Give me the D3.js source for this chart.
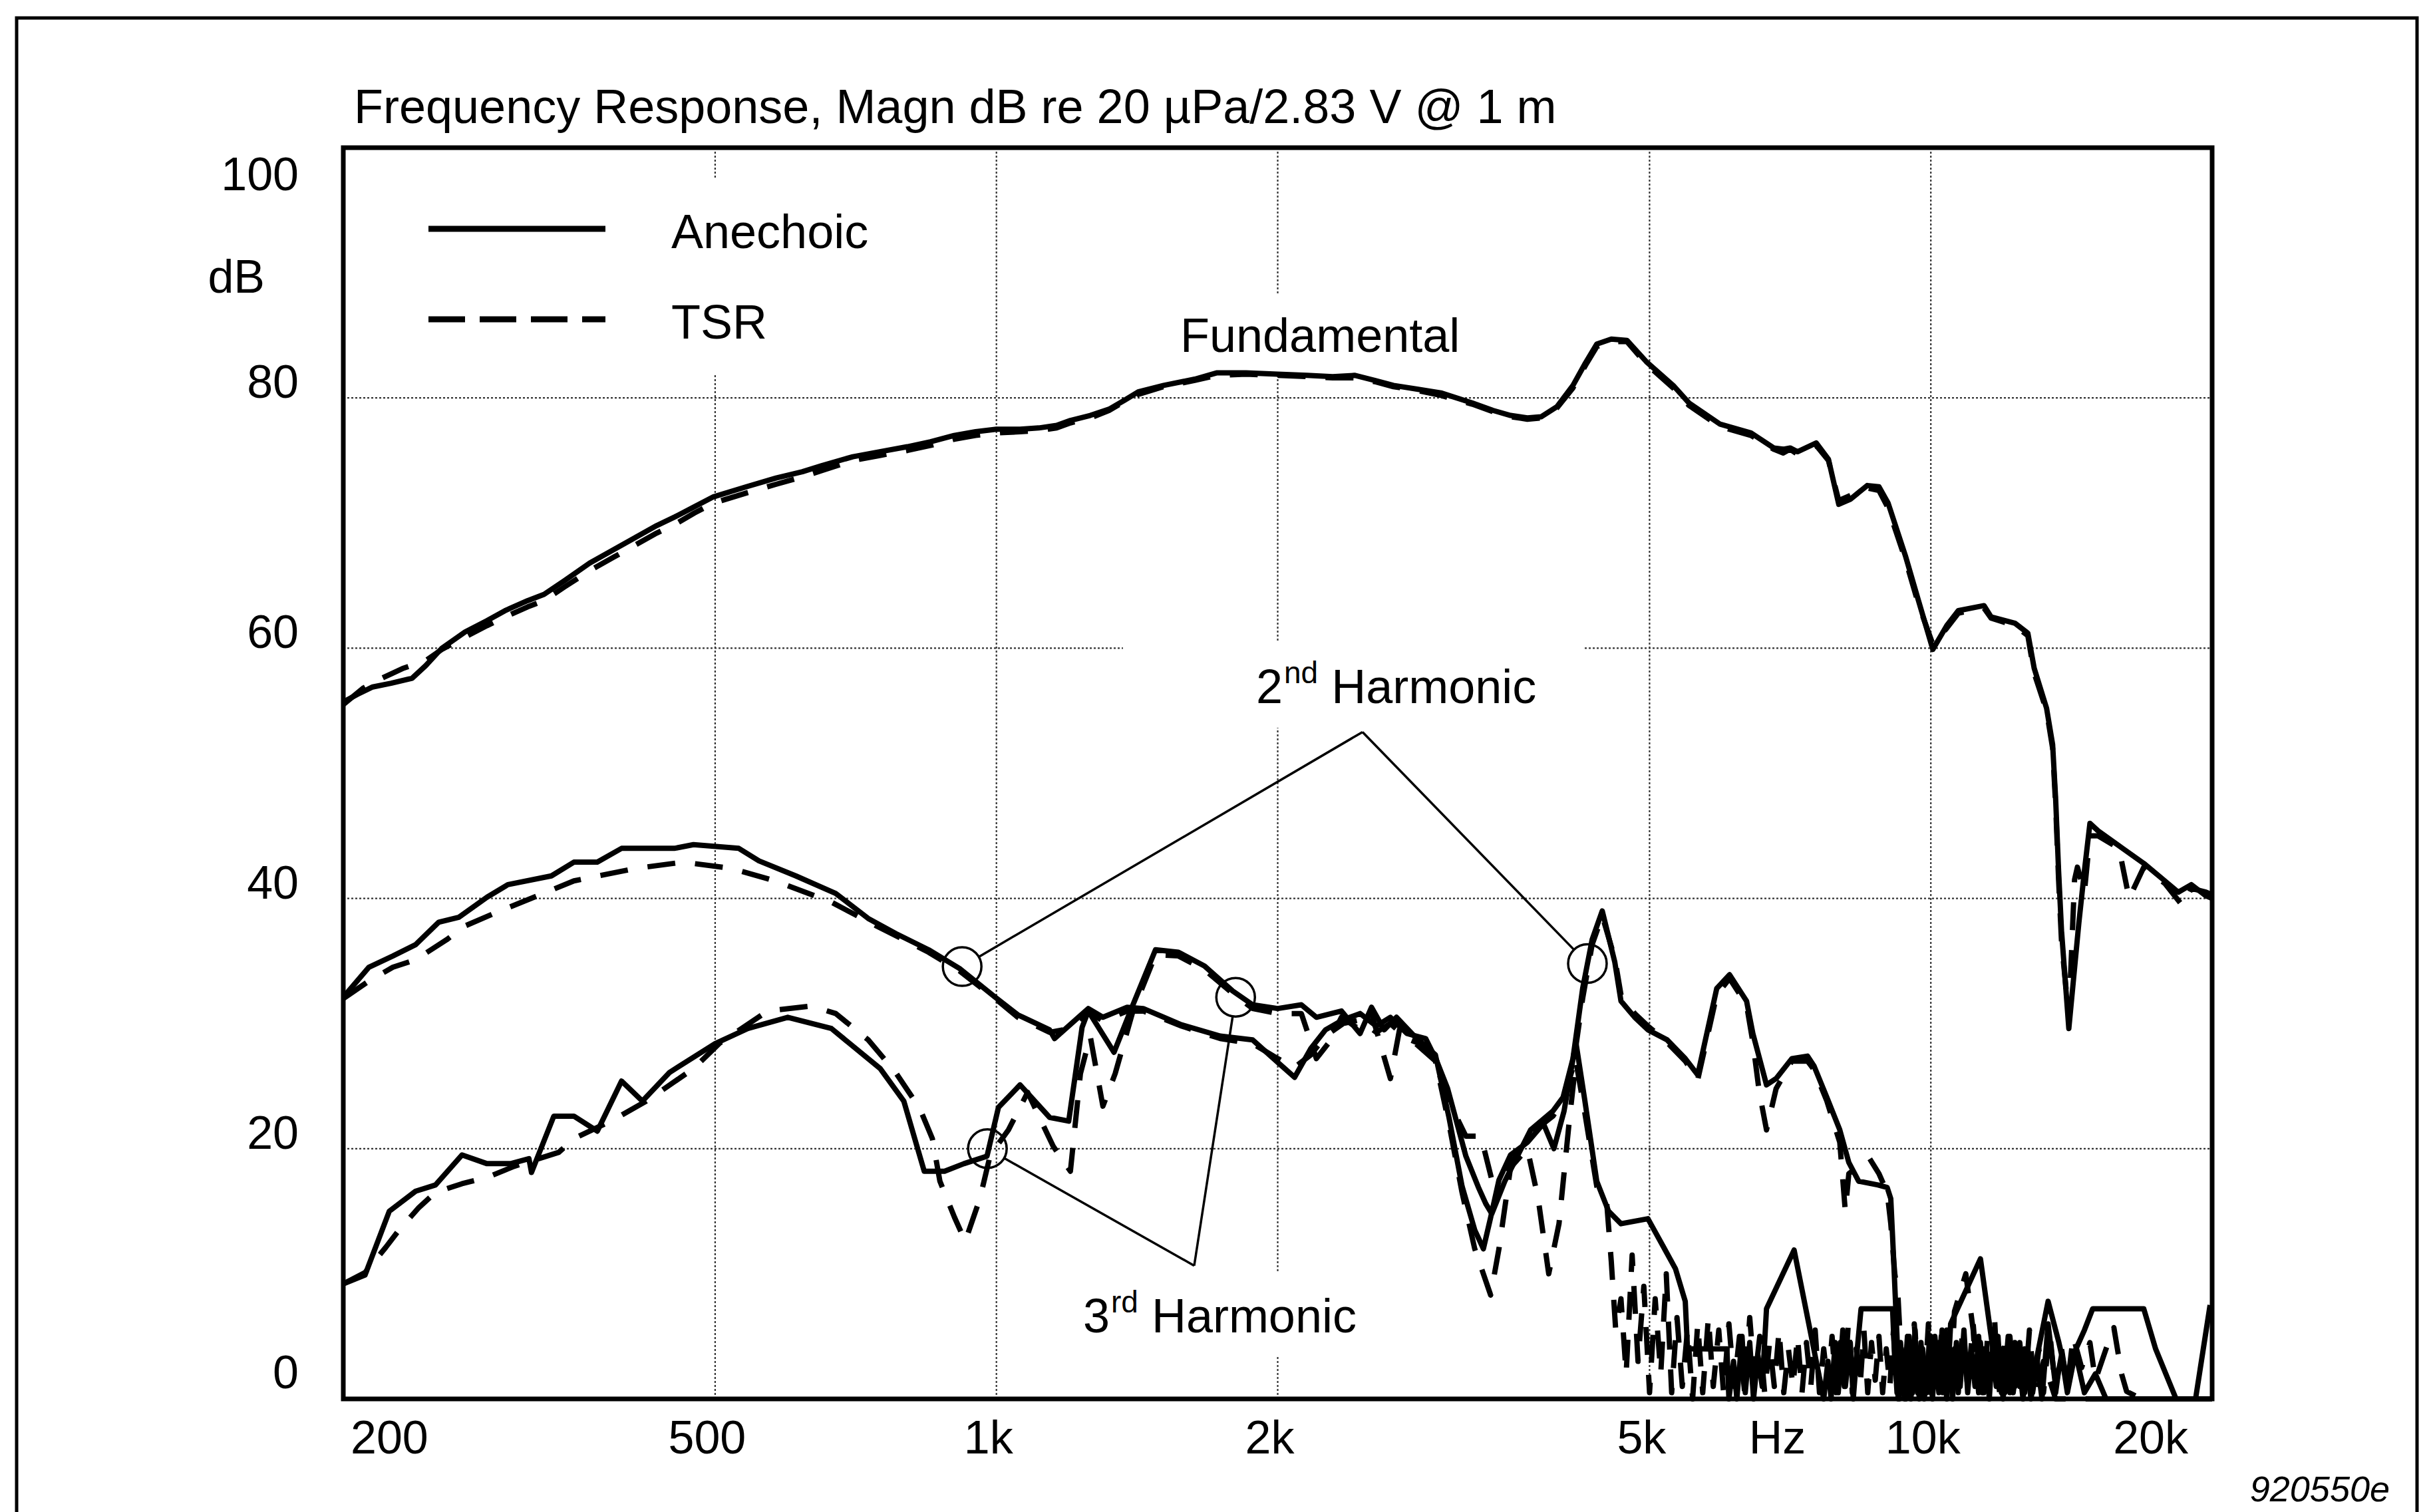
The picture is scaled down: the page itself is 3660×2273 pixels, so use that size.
<!DOCTYPE html>
<html>
<head>
<meta charset="utf-8">
<script src="https://cdn.jsdelivr.net/npm/d3@7"></script>
<style>
  html, body { margin: 0; padding: 0; background: #fff; }
  svg { display: block; }
  text { font-family: "Liberation Sans", Arial, Helvetica, sans-serif; fill: #000; }
</style>
</head>
<body>
<svg id="chart" width="3660" height="2273"></svg>
<script>
// ---- Measured responses: [frequency Hz, level dB] ----
const fundamentalAnechoic = [
  [200,55.7],[207,56.3],[215,56.9],[225,57.2],[237,57.6],[245,58.6],[255,60.0],[270,61.3],[285,62.2],
  [298,63.0],[315,63.8],[328,64.3],[345,65.4],[367,66.8],[390,67.9],[412,68.9],[433,69.8],[453,70.5],
  [475,71.3],[498,72.1],[540,72.9],[581,73.6],[620,74.1],[651,74.6],[702,75.3],[750,75.7],[803,76.1],
  [850,76.5],[901,77.0],[950,77.3],[1000,77.5],[1060,77.5],[1110,77.6],[1160,77.8],[1200,78.2],
  [1260,78.6],[1320,79.1],[1370,79.8],[1420,80.5],[1510,81.0],[1630,81.5],[1720,82.0],[1850,82.0],
  [2000,81.9],[2150,81.8],[2290,81.7],[2420,81.8],[2540,81.4],[2660,81.0],[2820,80.7],[2990,80.4],
  [3230,79.6],[3400,79.0],[3550,78.6],[3700,78.4],[3830,78.5],[3980,79.3],[4140,81.0],[4270,82.8],
  [4390,84.3],[4550,84.7],[4730,84.6],[4960,82.9],[5300,81.0],[5510,79.6],[5950,77.9],[6420,77.2],
  [6790,76.0],[6950,75.9],[7070,76.0],[7200,75.7],[7540,76.4],[7770,75.1],[7970,71.5],[8200,71.9],
  [8550,73.0],[8800,72.9],[9000,71.6],[9400,67.3],[9700,63.8],[10050,59.9],[10400,61.8],[10700,63.0],
  [11400,63.4],[11600,62.5],[12300,62.0],[12700,61.2],[12900,58.4],[13300,55.2],[13500,52.3],
  [13600,48.0],[13700,42.2],[13800,37.4],[14050,29.6],[14400,38.0],[14600,42.2],[14800,46.0],
  [15100,45.4],[15900,44.2],[16900,42.8],[17800,41.4],[18400,40.5],[19000,41.1],[19700,40.2],[20000,40.0]
];
const fundamentalTSR = [
  [200,55.5],[210,56.8],[220,57.6],[232,58.4],[245,59.0],[255,59.9],[270,60.9],[285,61.8],[298,62.5],
  [315,63.3],[328,63.8],[345,64.9],[367,66.2],[390,67.3],[412,68.3],[433,69.2],[453,69.9],[475,70.8],
  [498,71.6],[540,72.4],[581,73.1],[620,73.7],[651,74.2],[702,75.0],[750,75.4],[803,75.8],[850,76.2],
  [901,76.7],[950,77.0],[1000,77.2],[1060,77.3],[1110,77.4],[1160,77.6],[1200,78.0],[1260,78.4],
  [1320,79.0],[1370,79.7],[1420,80.3],[1510,80.9],[1630,81.4],[1720,81.8],[1850,81.9],[2000,81.8],
  [2150,81.7],[2290,81.6],[2420,81.6],[2540,81.3],[2660,80.9],[2820,80.6],[2990,80.2],[3230,79.5],
  [3400,78.9],[3550,78.5],[3700,78.3],[3830,78.4],[3980,79.2],[4140,80.8],[4270,82.6],[4390,84.1],
  [4550,84.5],[4730,84.5],[4960,82.7],[5300,80.8],[5510,79.4],[5950,77.7],[6420,77.0],[6790,75.9],
  [6950,75.6],[7070,75.9],[7200,75.5],[7540,76.2],[7770,75.0],[7970,71.8],[8200,72.2],[8550,72.8],
  [8800,72.6],[9000,71.2],[9400,67.0],[9700,63.5],[10050,60.3],[10400,61.6],[10700,62.8],[11400,63.2],
  [11600,62.4],[12300,61.8],[12700,61.0],[12900,58.0],[13300,55.0],[13500,52.0],[13600,47.5],
  [13700,41.5],[13800,36.5],[14050,30.5],[14250,41.5],[14350,42.5],[14600,40.5],[14800,45.0],
  [15100,45.0],[15900,44.0],[16300,40.0],[16900,42.5],[17800,41.2],[18600,39.4],[19000,40.8],
  [19700,40.5],[20000,40.3]
];
const secondHarmonicAnechoic = [
  [200,32.1],[213,34.5],[226,35.4],[239,36.3],[253,38.1],[266,38.5],[285,40.1],[300,41.1],[334,41.8],
  [353,42.9],[374,42.9],[397,44.0],[452,44.0],[474,44.3],[530,44.0],[557,43.0],[610,41.8],[673,40.4],
  [729,38.4],[780,37.2],[846,35.9],[913,34.4],[997,32.1],[1054,30.7],[1140,29.5],[1154,28.8],
  [1254,31.2],[1300,30.5],[1380,31.3],[1436,31.2],[1578,29.9],[1736,29.0],[1880,28.7],[2000,26.9],
  [2085,25.7],[2170,28.0],[2250,29.5],[2350,30.3],[2450,30.8],[2550,29.8],[2640,30.5],[2750,29.2],
  [2880,28.8],[2960,27.0],[3040,24.8],[3180,19.4],[3280,16.9],[3340,15.6],[3390,14.8],[3500,17.4],
  [3610,19.4],[3730,21.5],[3940,23.0],[4040,24.1],[4140,27.2],[4240,32.8],[4340,36.7],[4450,39.0],
  [4590,34.9],[4660,31.8],[4820,30.5],[4980,29.5],[5220,28.7],[5460,27.2],[5630,25.9],[5900,32.8],
  [6090,33.9],[6350,31.8],[6450,29.2],[6670,25.1],[6830,25.6],[7100,27.2],[7380,27.4],[7500,26.6],
  [7740,24.1],[7990,21.5],[8170,18.9],[8370,17.4],[8780,17.1],[8980,16.9],[9060,16.0],[9120,11.5],
  [9200,5.0],[9250,0],[9320,3.5],[9400,0],[9480,5.0],[9560,0.5],[9640,4.0],[9720,0],[9800,3.0],
  [9880,0.5],[9960,4.5],[10040,0],[10120,3.5],[10200,0.5],[10280,5.5],[10360,1.0],[10450,4.0],
  [10550,0],[10650,4.5],[10750,1.0],[10850,5.5],[10950,0.5],[11050,4.0],[11150,1.0],[11250,5.0],
  [11350,0.5],[11450,3.5],[11550,0],[11650,4.5],[11750,1.0],[11850,3.0],[11950,0],[12100,5.0],
  [12250,0.5],[12400,3.5],[12550,0],[12700,4.0],[12850,0.5],[13000,3.0],[13150,0],[13350,6.0],
  [13600,1.0],[13800,3.5],[14000,0.5],[14300,4.0],[14600,5.5],[14900,7.2],[16900,7.2],[17400,4.0],
  [18300,0],[19200,0],[19900,7.5]
];
const secondHarmonicTSR = [
  [200,32.0],[213,33.4],[226,34.5],[239,35.1],[258,36.7],[270,37.8],[290,38.8],[320,40.1],[353,41.4],
  [411,42.4],[462,42.9],[520,42.4],[580,41.4],[666,39.7],[744,37.8],[846,35.7],[913,34.2],[997,32.0],
  [1054,30.5],[1140,29.3],[1200,29.6],[1254,31.0],[1300,30.2],[1380,31.0],[1436,31.0],[1578,29.8],
  [1736,28.8],[1880,28.4],[2000,27.2],[2085,26.5],[2170,27.5],[2250,29.0],[2350,30.0],[2450,30.3],
  [2550,29.3],[2640,30.0],[2750,28.8],[2880,28.2],[2960,26.5],[3040,24.0],[3180,21.0],[3300,21.0],
  [3390,17.5],[3500,18.0],[3610,19.6],[3730,21.2],[3940,22.6],[4040,23.8],[4140,26.5],[4240,32.0],
  [4340,36.3],[4450,38.6],[4590,35.2],[4660,32.3],[4820,30.8],[4980,29.8],[5220,28.5],[5460,27.0],
  [5630,25.5],[5900,32.3],[6090,33.6],[6350,31.5],[6450,28.5],[6550,24.6],[6670,21.5],[6830,24.8],
  [7100,27.0],[7380,27.0],[7500,26.3],[7740,23.8],[7990,20.5],[8100,15.0],[8170,18.0],[8370,18.6],
  [8600,19.2],[8800,18.0],[8980,16.5],[9060,14.0],[9150,10.0],[9220,8.4],[9300,3.0],[9380,0],
  [9460,4.5],[9540,1.0],[9620,5.5],[9700,0.5],[9780,4.0],[9860,1.5],[9940,6.0],[10020,0.5],
  [10100,3.5],[10180,1.0],[10260,5.0],[10340,0],[10420,4.5],[10500,1.0],[10600,7.0],[10900,10.0],
  [11100,5.5],[11200,1.0],[11300,4.5],[11400,0.5],[11500,5.0],[11600,1.5],[11700,6.5],[11800,1.0],
  [11900,4.0],[12000,0.5],[12150,5.0],[12300,1.0],[12450,4.5],[12600,0.5],[12750,5.5],[12900,1.0],
  [13050,4.0],[13200,0.5],[13400,5.5],[13600,0.5],[13800,4.0],[14000,1.0],[14200,5.0],[14500,2.5],
  [14800,4.5],[15000,1.5],[15400,4.0],[15700,5.7],[16000,2.0],[16200,0.6],[16800,0],[20000,0]
];
const thirdHarmonicAnechoic = [
  [200,9.2],[211,9.9],[224,15.0],[239,16.6],[251,17.1],[268,19.5],[285,18.8],[302,18.8],[316,19.2],
  [318,18.1],[336,22.6],[353,22.6],[374,21.4],[397,25.4],[418,23.8],[447,26.1],[500,28.4],[542,29.6],
  [598,30.5],[666,29.6],[751,26.4],[796,23.8],[837,18.2],[880,18.2],[923,18.8],[977,19.4],[1005,23.3],
  [1060,25.1],[1140,22.5],[1195,22.2],[1235,29.7],[1254,31.0],[1336,27.7],[1400,31.5],[1480,35.9],
  [1566,35.7],[1670,34.6],[1790,32.6],[1880,31.5],[2000,31.2],[2120,31.5],[2200,30.5],[2340,31.0],
  [2450,29.2],[2520,31.3],[2600,29.5],[2680,30.5],[2800,29.0],[2950,27.5],[3050,22.5],[3150,17.0],
  [3250,13.5],[3320,12.0],[3380,14.5],[3450,17.5],[3550,19.5],[3700,20.5],[3850,22.0],[3950,20.0],
  [4050,23.0],[4170,28.5],[4260,24.0],[4390,17.4],[4520,15.0],[4660,14.0],[4980,14.4],[5170,12.2],
  [5330,10.4],[5460,7.8],[5490,4.0],[5800,4.0],[6050,4.0],[6080,0],[6150,3.0],[6200,0],[6280,5.0],
  [6330,0.5],[6400,4.5],[6460,0],[6530,3.5],[6600,1.0],[6670,7.2],[7140,11.9],[7680,0],[7760,3.0],
  [7820,0],[7900,4.5],[7960,0.5],[8050,5.5],[8100,1.0],[8200,4.5],[8260,0],[8330,3.5],[8420,7.2],
  [9100,7.2],[9150,3.0],[9230,0],[9300,4.0],[9370,0.5],[9450,5.0],[9520,0],[9600,3.5],[9680,0.5],
  [9760,4.5],[9840,0],[9920,3.0],[10000,0.5],[10100,5.0],[10200,1.0],[10300,4.0],[10400,0],
  [10500,6.0],[11300,11.2],[11700,3.0],[11800,5.0],[11900,0.5],[12000,4.0],[12150,0.5],[12300,4.5],
  [12450,1.0],[12600,4.0],[12800,0],[13000,3.5],[13350,7.8],[13700,4.6],[14000,1.5],[14300,3.5],
  [14600,0.5],[15000,2.0],[15400,0],[20000,0]
];
const thirdHarmonicTSR = [
  [200,9.2],[211,10.1],[222,12.1],[230,13.6],[241,15.3],[251,16.5],[268,17.2],[285,17.7],[305,18.6],
  [340,19.7],[353,20.8],[389,22.3],[422,23.8],[474,26.4],[505,28.4],[569,31.0],[634,31.4],[673,30.8],
  [729,28.7],[780,26.1],[828,23.2],[854,20.8],[870,17.4],[902,14.5],[926,12.6],[960,16.0],[985,19.5],
  [1030,21.5],[1080,24.5],[1120,22.0],[1150,20.2],[1200,18.2],[1230,26.0],[1260,29.0],[1300,23.4],
  [1340,26.0],[1400,31.0],[1480,35.5],[1566,35.4],[1670,34.3],[1790,32.4],[1880,31.2],[2000,30.8],
  [2120,30.8],[2200,27.2],[2270,28.5],[2340,30.5],[2450,29.5],[2520,30.8],[2640,25.6],[2700,29.5],
  [2800,28.5],[2950,27.0],[3050,22.0],[3150,16.5],[3250,12.0],[3380,8.3],[3450,12.0],[3550,18.5],
  [3700,20.0],[3800,16.0],[3900,10.0],[4000,14.0],[4100,22.0],[4170,27.0],[4260,23.0],[4390,17.0],
  [4500,15.6],[4550,11.0],[4600,5.5],[4660,8.0],[4720,2.0],[4790,11.5],[4860,3.0],[4930,9.0],
  [5000,0.5],[5070,8.0],[5140,2.0],[5210,10.0],[5280,0.5],[5350,6.5],[5420,1.0],[5490,5.5],[5560,0],
  [5630,6.0],[5700,0.5],[5780,6.5],[5850,1.0],[5930,5.5],[6000,0.5],[6080,6.0],[6160,1.0],[6240,5.0],
  [6320,0.5],[6400,6.5],[6480,1.5],[6560,5.0],[6640,0.5],[6720,4.5],[6800,1.0],[6880,5.5],[6960,0.5],
  [7040,4.0],[7120,1.0],[7200,5.0],[7280,0.5],[7360,4.5],[7440,1.0],[7520,5.5],[7600,0.5],[7680,4.0],
  [7760,1.0],[7840,5.0],[7920,0.5],[8000,4.5],[8080,1.0],[8160,6.0],[8240,0.5],[8320,4.0],[8400,1.0],
  [8480,5.5],[8560,0.5],[8640,4.5],[8720,1.5],[8800,5.0],[8880,0.5],[8960,4.0],[9040,1.0],[9120,5.5],
  [9200,0.5],[9280,4.5],[9360,1.0],[9440,5.0],[9520,0.5],[9600,6.0],[9700,1.0],[9800,4.0],[9900,0.5],
  [10000,5.0],[10100,1.0],[10200,4.5],[10300,0.5],[10400,5.5],[10500,1.0],[10600,4.0],[10700,0.5],
  [10800,5.0],[10950,1.0],[11100,6.0],[11250,0.5],[11400,4.0],[11550,1.0],[11700,3.5],[11850,0.5],
  [12000,4.5],[12200,0.5],[12400,4.0],[12600,1.0],[12800,3.5],[13000,0.5],[13200,3.0],[13600,0],
  [20000,0]
];

// ---- Axis ticks and labels ----
const xTickValues = [200, 500, 1000, 2000, 5000, 10000, 20000];
const xTickLabels = ["200", "500", "1k", "2k", "5k", "10k", "20k"];
const xGridValues = [500, 1000, 2000, 5000, 10000];
const yTickValues = [0, 20, 40, 60, 80, 100];
const yTickLabels = ["0", "20", "40", "60", "80", "100"];
const yGridValues = [20, 40, 60, 80];
const xUnitLabel = "Hz";
const xUnitFreq = 6850;
const yUnitLabel = "dB";

// ---- Text ----
const titleText = "Frequency Response, Magn dB re 20 \u00B5Pa/2.83 V @ 1 m";
const legendItems = ["Anechoic", "TSR"];
const figureCode = "920550e";

// ---- Callouts: label anchors, circles and leader apex, [Hz, dB] ----
const fundamentalLabelAt = [1573, 83.7];
const secondLabelAt = [1896, 55.6];
const thirdLabelAt = [1238, 5.3];
const secondApex = [2465, 53.3];
const secondCircles = [[919, 34.55], [4290, 34.8]];
const thirdApex = [1628, 10.65];
const thirdCircles = [[978, 20.0], [1803, 32.1]];

// ---- Layout ----
const plot = { left: 516, right: 3325, top: 222, bottom: 2103 };
const x = d3.scaleLog().domain([200, 20000]).range([plot.left, plot.right]);
const y = d3.scaleLinear().domain([0, 100]).range([plot.bottom, plot.top]);

const svg = d3.select("#chart");
svg.append("rect").attr("width", 3660).attr("height", 2273).attr("fill", "#fff");

const gridLayer = svg.append("g");
const maskLayer = svg.append("g");
const curveLayer = svg.append("g");
const noteLayer = svg.append("g");
const textLayer = svg.append("g");
const frameLayer = svg.append("g");

// Outer frame (open at the bottom)
frameLayer.append("path")
  .attr("d", `M25,2290 V27 H3633 V2290`)
  .attr("fill", "none").attr("stroke", "#000").attr("stroke-width", 5);

// Dotted grid
gridLayer.selectAll("line.vg").data(xGridValues).join("line")
  .attr("x1", d => x(d)).attr("x2", d => x(d))
  .attr("y1", plot.top).attr("y2", plot.bottom)
  .attr("stroke", "#333").attr("stroke-width", 2.2).attr("stroke-dasharray", "3,3");
gridLayer.selectAll("line.hg").data(yGridValues).join("line")
  .attr("x1", plot.left).attr("x2", plot.right)
  .attr("y1", d => y(d)).attr("y2", d => y(d))
  .attr("stroke", "#333").attr("stroke-width", 2.2).attr("stroke-dasharray", "3,3");

// Curves
const line = d3.line().x(d => x(d[0])).y(d => y(d[1]));
const curveStyle = (sel, dashed) => sel
  .attr("fill", "none").attr("stroke", "#000").attr("stroke-width", 8)
  .attr("stroke-linejoin", "round")
  .attr("stroke-dasharray", dashed ? "42,30" : null);

[[fundamentalTSR, true], [secondHarmonicTSR, true], [thirdHarmonicTSR, true],
 [fundamentalAnechoic, false], [secondHarmonicAnechoic, false], [thirdHarmonicAnechoic, false]]
  .forEach(([data, dashed]) => {
    curveLayer.append("path").attr("d", line(data)).call(curveStyle, dashed);
  });

// Callout circles and leader lines
const R = 29;
function callout(apex, circles) {
  const ax = x(apex[0]), ay = y(apex[1]);
  circles.forEach(c => {
    const cx = x(c[0]), cy = y(c[1]);
    const dx = cx - ax, dy = cy - ay, len = Math.hypot(dx, dy);
    noteLayer.append("line")
      .attr("x1", ax).attr("y1", ay)
      .attr("x2", cx - dx / len * R).attr("y2", cy - dy / len * R)
      .attr("stroke", "#000").attr("stroke-width", 3.5);
    noteLayer.append("circle").attr("cx", cx).attr("cy", cy).attr("r", R)
      .attr("fill", "none").attr("stroke", "#000").attr("stroke-width", 3.5);
  });
}
callout(secondApex, secondCircles);
callout(thirdApex, thirdCircles);

// Plot frame
frameLayer.append("rect")
  .attr("x", plot.left).attr("y", plot.top)
  .attr("width", plot.right - plot.left).attr("height", plot.bottom - plot.top)
  .attr("fill", "none").attr("stroke", "#000").attr("stroke-width", 7);

// Title
textLayer.append("text").attr("x", plot.left + 16).attr("y", 185)
  .attr("font-size", 72).text(titleText);

// Y tick labels
textLayer.selectAll("text.yt").data(yTickValues).join("text")
  .attr("x", plot.left - 67)
  .attr("y", d => d === 100 ? y(d) + 64 : d === 0 ? y(d) - 16 : y(d))
  .attr("text-anchor", "end").attr("font-size", 70)
  .text((d, i) => yTickLabels[i]);
textLayer.append("text").attr("x", plot.left - 118).attr("y", 440)
  .attr("text-anchor", "end").attr("font-size", 70).text(yUnitLabel);

// X tick labels
textLayer.selectAll("text.xt").data(xTickValues).join("text")
  .attr("x", (d, i) => i === 0 ? x(d) + 11 : i === xTickValues.length - 1 ? x(d) - 36 : x(d) - 12)
  .attr("y", 2185)
  .attr("text-anchor", (d, i) => i === 0 ? "start" : i === xTickValues.length - 1 ? "end" : "middle")
  .attr("font-size", 70)
  .text((d, i) => xTickLabels[i]);
textLayer.append("text").attr("x", x(xUnitFreq)).attr("y", 2185)
  .attr("text-anchor", "middle").attr("font-size", 70).text(xUnitLabel);

// Legend
const legend = textLayer.append("g");
legend.append("line").attr("x1", plot.left + 128).attr("x2", plot.left + 394)
  .attr("y1", 344).attr("y2", 344).attr("stroke", "#000").attr("stroke-width", 9);
legend.append("line").attr("x1", plot.left + 128).attr("x2", plot.left + 394)
  .attr("y1", 480).attr("y2", 480).attr("stroke", "#000").attr("stroke-width", 9)
  .attr("stroke-dasharray", "55,22");
legend.append("text").attr("x", plot.left + 493).attr("y", 373).attr("font-size", 72).text(legendItems[0]);
legend.append("text").attr("x", plot.left + 493).attr("y", 509).attr("font-size", 72).text(legendItems[1]);

// Curve labels
const fundLabel = textLayer.append("text")
  .attr("x", x(fundamentalLabelAt[0])).attr("y", y(fundamentalLabelAt[1]))
  .attr("font-size", 72).text("Fundamental");

function harmonicLabel(at, num, sup) {
  const t = textLayer.append("text").attr("x", x(at[0])).attr("y", y(at[1])).attr("font-size", 72);
  t.append("tspan").text(num);
  t.append("tspan").attr("font-size", 46).attr("dx", 2).attr("dy", -30).text(sup);
  t.append("tspan").attr("dy", 30).text(" Harmonic");
  return t;
}
const secondLabel = harmonicLabel(secondLabelAt, "2", "nd");
const thirdLabel = harmonicLabel(thirdLabelAt, "3", "rd");

// Figure code
textLayer.append("text").attr("x", 3592).attr("y", 2257)
  .attr("text-anchor", "end").attr("font-size", 54).attr("font-style", "italic")
  .text(figureCode);

// Clear the grid behind the legend and the curve labels
function clearBehind(node, padLeft, padRight, padY) {
  const b = node.getBBox();
  maskLayer.append("rect")
    .attr("x", b.x - padLeft).attr("y", b.y - padY)
    .attr("width", b.width + padLeft + padRight).attr("height", b.height + 2 * padY)
    .attr("fill", "#fff");
}
clearBehind(legend.node(), 40, 40, 40);
clearBehind(fundLabel.node(), 30, 30, 20);
clearBehind(secondLabel.node(), 200, 70, 22);
clearBehind(thirdLabel.node(), 30, 30, 20);
</script>
</body>
</html>
